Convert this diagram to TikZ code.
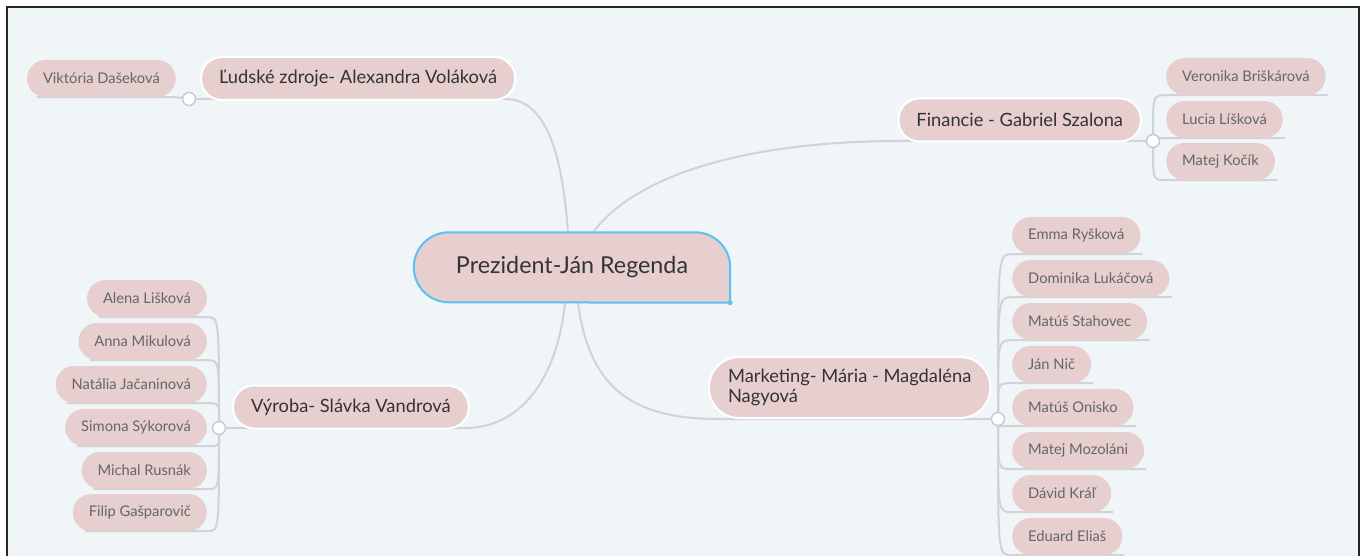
\documentclass[tikz,border=0pt]{standalone}
\usepackage{fontspec}
\setmainfont{Lato}
\definecolor{bgc}{HTML}{F0F5F8}
\definecolor{nodefill}{HTML}{E6CFCE}
\definecolor{linegray}{HTML}{D0D4D7}
\definecolor{hubgray}{HTML}{C8CCCF}
\definecolor{presblue}{HTML}{5CC0F5}
\definecolor{leaftext}{HTML}{666666}
\definecolor{branchtext}{HTML}{333333}
\pgfdeclarelayer{bgfill}
\pgfdeclarelayer{lines}
\pgfsetlayers{bgfill,lines,main}
\begin{document}
\begin{tikzpicture}[x=1pt,y=1pt,
  leafR/.style={fill=nodefill, rounded corners=18.5pt, minimum height=37pt, inner xsep=16pt, inner ysep=0pt, anchor=west, font=\fontsize{14.7}{17}\selectfont, text=leaftext},
  leafL/.style={leafR, anchor=east},
  branch/.style={fill=nodefill, draw=white, line width=2pt, rounded corners=21pt, minimum height=43pt, inner xsep=18pt, inner ysep=0pt, font=\fontsize{18.3}{20.5}\selectfont, text=branchtext},
  conn/.style={draw=linegray, line width=2pt},
  hub/.style={circle, fill=white, draw=hubgray, line width=1.5pt, minimum size=13pt, inner sep=0pt}]
\useasboundingbox (0,0) rectangle (1365,555);
\begin{pgfonlayer}{bgfill}
  \fill[white] (0,0) rectangle (1365,555);
  \fill[bgc] (7,-10) rectangle (1359,548);
  \draw[black!85, line width=1.5pt] (7,-10) rectangle (1359,548);
\end{pgfonlayer}

% center
\node[minimum width=316pt, minimum height=70pt, inner sep=0pt, text=branchtext, font=\fontsize{23.3}{27}\selectfont] (pres) at (572,287.5) {Prezident-Ján Regenda};

% branches
\node[branch, anchor=west] (lz) at (200,476.5) {Ľudské zdroje- Alexandra Voláková};
\node[branch, anchor=east] (fin) at (1142,435) {Financie - Gabriel Szalona};
\node[branch, anchor=west] (vyr) at (232,148) {Výroba- Slávka Vandrová};
\node[branch, anchor=west, rounded corners=30pt, minimum height=61pt, align=left, inner xsep=19pt] (mkt) at (708,167.5) {Marketing- Mária - Magdaléna\\Nagyová};

% leaves
\node[leafL] (vik) at (176,476.5) {Viktória Dašeková};

\node[leafR] (f1) at (1166,478.5) {Veronika Briškárová};
\node[leafR] (f2) at (1166,435.5) {Lucia Líšková};
\node[leafR] (f3) at (1166,393.5) {Matej Kočík};

\node[leafL] (v1) at (207,256.5) {Alena Lišková};
\node[leafL] (v2) at (207,213.5) {Anna Mikulová};
\node[leafL] (v3) at (207,170.5) {Natália Jačaninová};
\node[leafL] (v4) at (207,127.5) {Simona Sýkorová};
\node[leafL] (v5) at (207,84.5) {Michal Rusnák};
\node[leafL] (v6) at (207,42.5) {Filip Gašparovič};

\node[leafR] (m1) at (1012,319.5) {Emma Ryšková};
\node[leafR] (m2) at (1012,276.5) {Dominika Lukáčová};
\node[leafR] (m3) at (1012,233.5) {Matúš Stahovec};
\node[leafR] (m4) at (1012,190.5) {Ján Nič};
\node[leafR] (m5) at (1012,147.5) {Matúš Onisko};
\node[leafR] (m6) at (1012,104.5) {Matej Mozoláni};
\node[leafR] (m7) at (1012,61.5) {Dávid Kráľ};
\node[leafR] (m8) at (1012,18.5) {Eduard Eliaš};

% hubs
\node[hub] (h1) at (189,456) {};
\node[hub] (h2) at (1153,414) {};
\node[hub] (h3) at (219,127) {};
\node[hub] (h4) at (998,136) {};

\begin{pgfonlayer}{lines}
  % main branches
  \draw[conn] ([xshift=-4pt]pres.north) .. controls (562,405) and (545,456) .. (505,456) -- (h1);
  \draw[conn] ([xshift=21pt]pres.north) .. controls (640,385) and (760,414) .. (900,414) -- (h2);
  \draw[conn] ([xshift=-7pt]pres.south) .. controls (557,175) and (520,127) .. (465,127) -- (h3);
  \draw[conn] ([xshift=6pt]pres.south) .. controls (590,160) and (640,136) .. (720,136) -- (h4);
  % leaf links
  \draw[conn] (h1) -- (vik.south east) -- ([xshift=10pt]vik.south west);
  \foreach \n in {f1,f2,f3}
    \draw[conn] (h2) .. controls (h2 |- \n.south west) .. (\n.south west) -- ([xshift=2pt]\n.south east);
  \foreach \n in {v1,v2,v3,v4,v5,v6}
    \draw[conn] (h3) .. controls (h3 |- \n.south east) .. (\n.south east) -- ([xshift=12pt]\n.south west);
  \foreach \n in {m1,m2,m3,m4,m5,m6,m7,m8}
    \draw[conn] (h4) .. controls (h4 |- \n.south west) .. (\n.south west) -- ([xshift=2pt]\n.south east);
  % center shape
  \path[fill=nodefill, draw=presblue, line width=2pt] (pres.south east) -- ([yshift=-35pt]pres.north east) arc[start angle=0, end angle=90, radius=35pt] -- ([xshift=35pt]pres.north west) arc[start angle=90, end angle=270, radius=35pt] -- cycle;
  \fill[presblue] (pres.south east) circle (2.5pt);
\end{pgfonlayer}
\end{tikzpicture}
\end{document}
